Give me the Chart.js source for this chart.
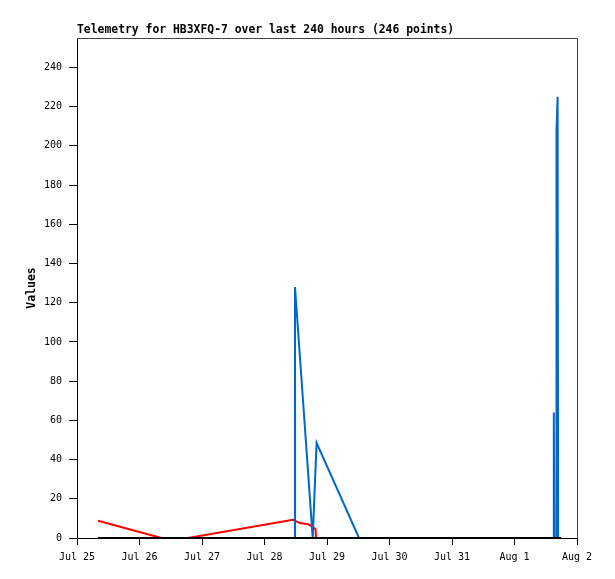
<!DOCTYPE html>
<html>
<head>
<meta charset="utf-8">
<title>Telemetry</title>
<script src="https://cdn.jsdelivr.net/npm/chart.js@4.4.1/dist/chart.umd.min.js"></script>
<style>
  body { margin: 0; background: #fff; }
  #wrap { width: 615px; height: 579px; }
</style>
</head>
<body>
<div id="wrap"><canvas id="chart" width="615" height="579"></canvas></div>
<script>
// x values are hours since Jul 25 00:00
const xLabels = ['Jul 25', 'Jul 26', 'Jul 27', 'Jul 28', 'Jul 29', 'Jul 30', 'Jul 31', 'Aug 1', 'Aug 2'];
const xTickHours = [0, 24, 48, 72, 96, 120, 144, 168, 192];
const yTicks = [0, 20, 40, 60, 80, 100, 120, 140, 160, 180, 200, 220, 240];

const blackHours = [8.06, 185.9];
const blackValues = [0, 0];

const blueHours = [83.52, 83.71, 90.51, 92.0, 108.29, 182.9, 183.1, 183.3, 183.94, 184.13, 184.55, 184.75];
const blueValues = [0, 128, 0, 48.5, 0, 0, 64, 0, 0, 208, 225, 0];

const redHours = [8.06, 32.45, 42.62, 82.94, 85.63, 88.7, 90.24, 91.58, 91.78];
const redValues = [8.8, 0, 0, 9.3, 7.6, 7.0, 6.0, 4.6, 0];

const titleText = 'Telemetry for HB3XFQ-7 over last 240 hours (246 points)';

function pts(xs, ys) {
    return xs.map((x, i) => ({ x: x, y: ys[i] }));
}

// title and the grey top/right frame of the plot box
const framePlugin = {
    id: 'frame',
    afterDraw(chart) {
        const ctx = chart.ctx;
        const a = chart.chartArea;
        ctx.save();
        ctx.strokeStyle = '#444';
        ctx.lineWidth = 1;
        ctx.beginPath();
        ctx.moveTo(a.left, a.top + 0.5);
        ctx.lineTo(a.right + 0.5, a.top + 0.5);
        ctx.lineTo(a.right + 0.5, a.bottom);
        ctx.stroke();
        ctx.fillStyle = '#000';
        ctx.font = 'bold 11.4px "DejaVu Sans Mono", monospace';
        ctx.textBaseline = 'alphabetic';
        ctx.textAlign = 'left';
        ctx.fillText(titleText, a.left, 33);
        ctx.restore();
    }
};

const ctx = document.getElementById('chart').getContext('2d');
const chart = new Chart(ctx, {
    type: 'line',
    data: {
        datasets: [
            { data: pts(blackHours, blackValues), borderColor: '#000000', borderWidth: 2, clip: 4 },
            { data: pts(blueHours, blueValues), borderColor: '#0066cc', borderWidth: 2, clip: 4 },
            { data: pts(redHours, redValues), borderColor: '#ff0000', borderWidth: 2, clip: 4 }
        ]
    },
    options: {
        responsive: false,
        animation: false,
        elements: { point: { radius: 0 }, line: { tension: 0 } },
        layout: { padding: { top: 38, right: 38, left: 0, bottom: 0 } },
        plugins: { legend: { display: false }, tooltip: { enabled: false } },
        scales: {
            x: {
                type: 'linear',
                min: 0,
                max: 192,
                afterBuildTicks: function(scale) {
                    scale.ticks = xTickHours.map(v => ({ value: v }));
                },
                afterFit: function(scale) { scale.height = 41; },
                ticks: {
                    autoSkip: false,
                    maxRotation: 0,
                    padding: 6,
                    color: '#000',
                    font: { family: '"DejaVu Sans Mono", monospace', size: 10 },
                    callback: function(v) {
                        const i = xTickHours.indexOf(v);
                        return i >= 0 ? xLabels[i] : '';
                    }
                },
                grid: { drawOnChartArea: false, drawTicks: true, tickLength: 7, color: '#000' },
                border: { color: '#000', width: 1 }
            },
            y: {
                min: 0,
                max: 255,
                afterBuildTicks: function(scale) {
                    scale.ticks = yTicks.map(v => ({ value: v }));
                },
                afterFit: function(scale) { scale.width = 77; },
                ticks: {
                    padding: 7,
                    color: '#000',
                    font: { family: '"DejaVu Sans Mono", monospace', size: 10 }
                },
                grid: { drawOnChartArea: false, drawTicks: true, tickLength: 8, color: '#000' },
                border: { color: '#000', width: 1 },
                title: {
                    display: true,
                    text: 'Values',
                    color: '#000',
                    padding: { top: 25, bottom: 0 },
                    font: { family: '"DejaVu Sans Mono", monospace', size: 11.5, weight: 'bold' }
                }
            }
        }
    },
    plugins: [framePlugin]
});
</script>
</body>
</html>
